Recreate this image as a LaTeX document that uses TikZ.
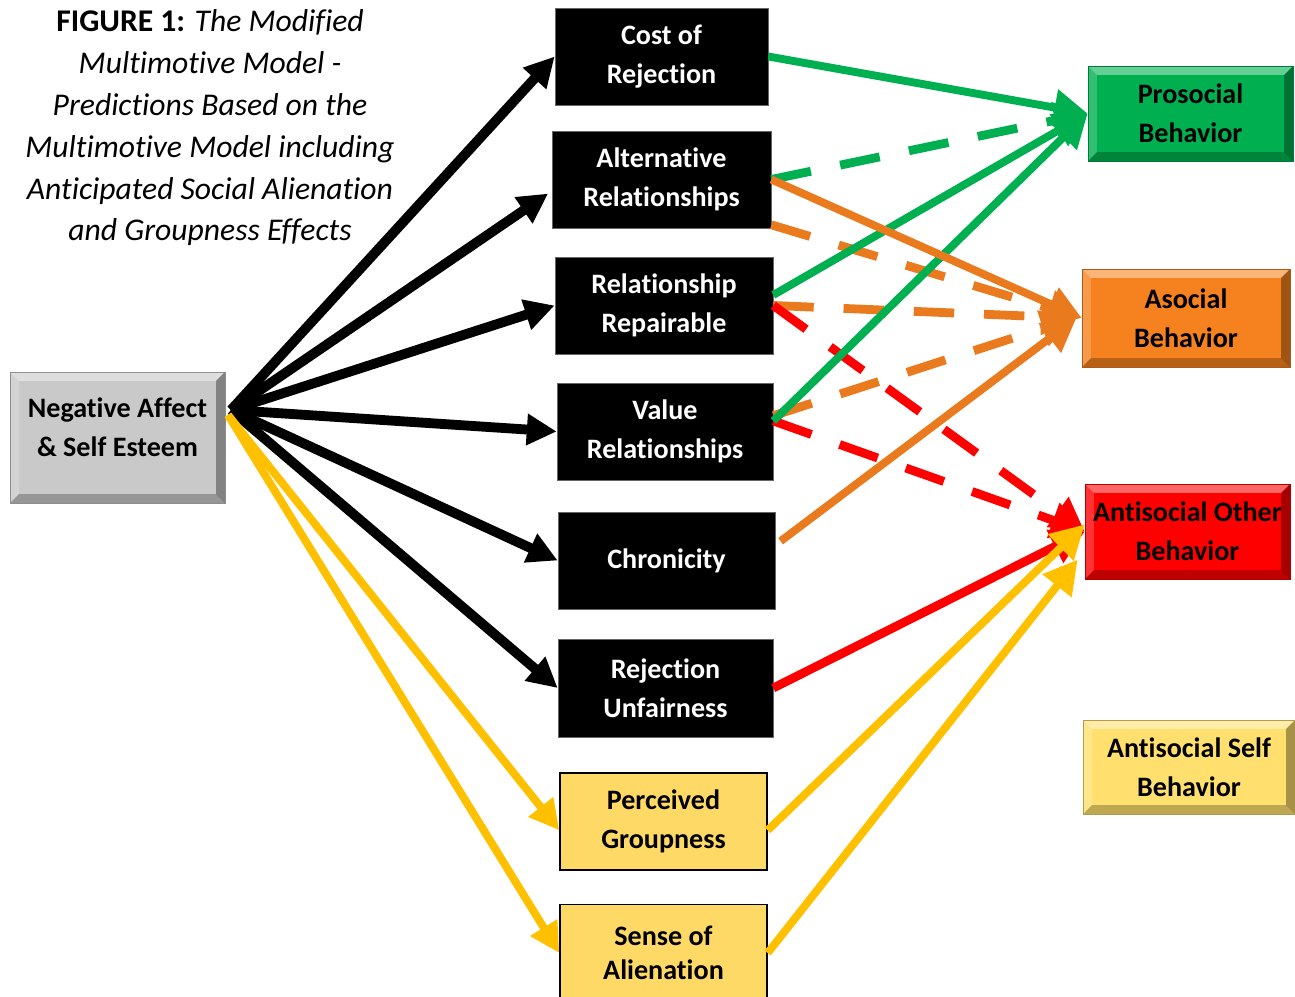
\documentclass[tikz,border=0pt]{standalone}
\usepackage{fontspec}
\setmainfont{Carlito}[Ligatures={NoCommon,NoContextual,NoRare},Contextuals=NoAlternate]
\usepackage{xcolor}
\definecolor{boxgray}{HTML}{C9C9C9}
\definecolor{progreen}{HTML}{00B050}
\definecolor{asoorange}{HTML}{F5821F}
\definecolor{lineorange}{HTML}{EA7A1E}
\definecolor{antired}{HTML}{FF0000}
\definecolor{groupyellow}{HTML}{FFC000}
\definecolor{paleyellow}{HTML}{FFD966}
\definecolor{selfyellow}{HTML}{FFE06E}
\usetikzlibrary{arrows.meta,positioning,calc}
\newcommand{\bevw}{5pt}

\tikzset{
  boxtext/.style={font=\bfseries\fontsize{16}{22}\selectfont, align=center, inner sep=0pt},
  blackbox/.style={boxtext, fill=black, draw=black!60, text=white, minimum height=1.94cm},
  groupbox/.style={boxtext, fill=paleyellow, draw=black, line width=0.8pt, minimum height=1.94cm},
  bevel/.style={path picture={
    \fill[white,opacity=.4] (path picture bounding box.north west) -- (path picture bounding box.north east)
      -- ([shift={(-\bevw,-\bevw)}]path picture bounding box.north east) -- ([shift={(\bevw,-\bevw)}]path picture bounding box.north west) -- cycle;
    \fill[white,opacity=.2] (path picture bounding box.north west) -- ([shift={(\bevw,-\bevw)}]path picture bounding box.north west)
      -- ([shift={(\bevw,\bevw)}]path picture bounding box.south west) -- (path picture bounding box.south west) -- cycle;
    \fill[black,opacity=.35] (path picture bounding box.north east) -- (path picture bounding box.south east)
      -- ([shift={(-\bevw,\bevw)}]path picture bounding box.south east) -- ([shift={(-\bevw,-\bevw)}]path picture bounding box.north east) -- cycle;
    \fill[black,opacity=.25] (path picture bounding box.south west) -- (path picture bounding box.south east)
      -- ([shift={(-\bevw,\bevw)}]path picture bounding box.south east) -- ([shift={(\bevw,\bevw)}]path picture bounding box.south west) -- cycle;
  }},
  outbox/.style={boxtext, bevel, draw=#1!70!black, line width=0.4pt, fill=#1},
  fromaffect/.style={line width=5.6pt, -{Triangle[length=17pt,width=17pt]}},
  toout/.style={line width=4.5pt, -{Triangle[length=19pt,width=20pt]}},
  dashline/.style={line width=5pt, dash pattern=on 23pt off 17pt}
}

\begin{document}
\begin{tikzpicture}[x=0.02cm,y=-0.02cm]
  \fill[white] (0,0) rectangle (1295,997);
  \useasboundingbox (0,0) rectangle (1295,997);

  % caption
  \node[align=center, font=\fontsize{18}{23.8}\selectfont] (title) at (210,128)
    {\textbf{FIGURE 1:} \textit{The Modified}\\ \textit{Multimotive Model -}\\ \textit{Predictions Based on the}\\
     \textit{Multimotive Model including}\\ \textit{Anticipated Social Alienation}\\ \textit{and Groupness Effects}};

  % source
  \node[outbox=boxgray, minimum width=4.30cm, minimum height=2.62cm] (affect) at (117.5,437.5) {Negative Affect\\ \& Self Esteem\\[-10pt]\mbox{}};

  % mediators
  \node[blackbox, minimum width=4.26cm] (cost) at (661.5,56.5) {Cost of\\ Rejection};
  \node[blackbox, minimum width=4.38cm] (alt) at (661.5,179.5) {Alternative\\ Relationships};
  \node[blackbox, minimum width=4.36cm] (repair) at (664,305.5) {Relationship\\ Repairable};
  \node[blackbox, minimum width=4.32cm] (value) at (665,431.5) {Value\\ Relationships};
  \node[blackbox, minimum width=4.34cm] (chron) at (666.5,560.5) {Chronicity};
  \node[blackbox, minimum width=4.30cm, minimum height=1.96cm] (unfair) at (665.5,688) {Rejection\\ Unfairness};
  \node[groupbox, minimum width=4.14cm] (perc) at (663.5,821.5) {Perceived\\ Groupness};
  \node[groupbox, minimum width=4.14cm] (sense) at (663.5,953) {Sense of\\[-3pt] Alienation};

  % outcomes
  \node[outbox=progreen, minimum width=4.10cm, minimum height=1.90cm] (pro) at (1190.5,113.5) {Prosocial\\ Behavior};
  \node[outbox=asoorange, minimum width=4.16cm, minimum height=1.96cm] (aso) at (1186,318) {Asocial\\ Behavior};
  \node[outbox=antired, minimum width=4.10cm, minimum height=1.90cm] (ao) at (1187.5,531.5) {Antisocial Other\\ Behavior};
  \node[outbox=selfyellow, minimum width=4.24cm, minimum height=1.88cm] (as) at (1189,767) {Antisocial Self\\ Behavior};

  \coordinate (src) at (231,410);
  \coordinate (srcy) at (228,415);

  % affect to mediators
  \foreach \t in {cost,repair,value,chron,unfair}
    \draw[fromaffect] (src) -- (\t.west);
  \draw[fromaffect] (src) -- ([shift={(-2pt,-8pt)}]alt.west);
  \draw[fromaffect, groupyellow, line width=4.5pt] (srcy) -- ([yshift=-5pt]perc.west);
  \draw[fromaffect, groupyellow, line width=4.5pt] (srcy) -- (sense.west);

  % mediators to outcomes
  \draw[toout, progreen, dashline] (alt.east) -- (pro.west);
  \draw[toout, lineorange, dashline] ([yshift=2pt]alt.south east) -- (aso.west);
  \draw[toout, lineorange, dashline] (repair.east) -- ([xshift=-4pt]aso.west);
  \draw[toout, lineorange, dashline] ([yshift=9pt]value.east) -- ([xshift=-4pt]aso.west);
  \draw[toout, antired, dashline] (repair.east) -- (ao.west);
  \draw[toout, antired, dashline] ([yshift=6pt]value.east) -- (ao.west);
  \draw[toout, progreen] (cost.east) -- (pro.west);
  \draw[toout, progreen] ([yshift=6pt]repair.east) -- (pro.west);
  \draw[toout, progreen] ([yshift=6pt]value.east) -- (pro.west);
  \draw[toout, lineorange, line width=4.5pt] (alt.east) -- (aso.west);
  \draw[toout, lineorange, line width=4.5pt] ([shift={(3pt,11pt)}]chron.east) -- ([xshift=-3pt]aso.west);
  \draw[toout, antired, line width=5pt] (unfair.east) -- (ao.west);
  \draw[toout, groupyellow] ([yshift=-5pt]perc.east) -- ([yshift=4pt]ao.west);
  \draw[toout, groupyellow] (sense.east) -- ([shift={(-4pt,-16pt)}]ao.west);
\end{tikzpicture}
\end{document}
